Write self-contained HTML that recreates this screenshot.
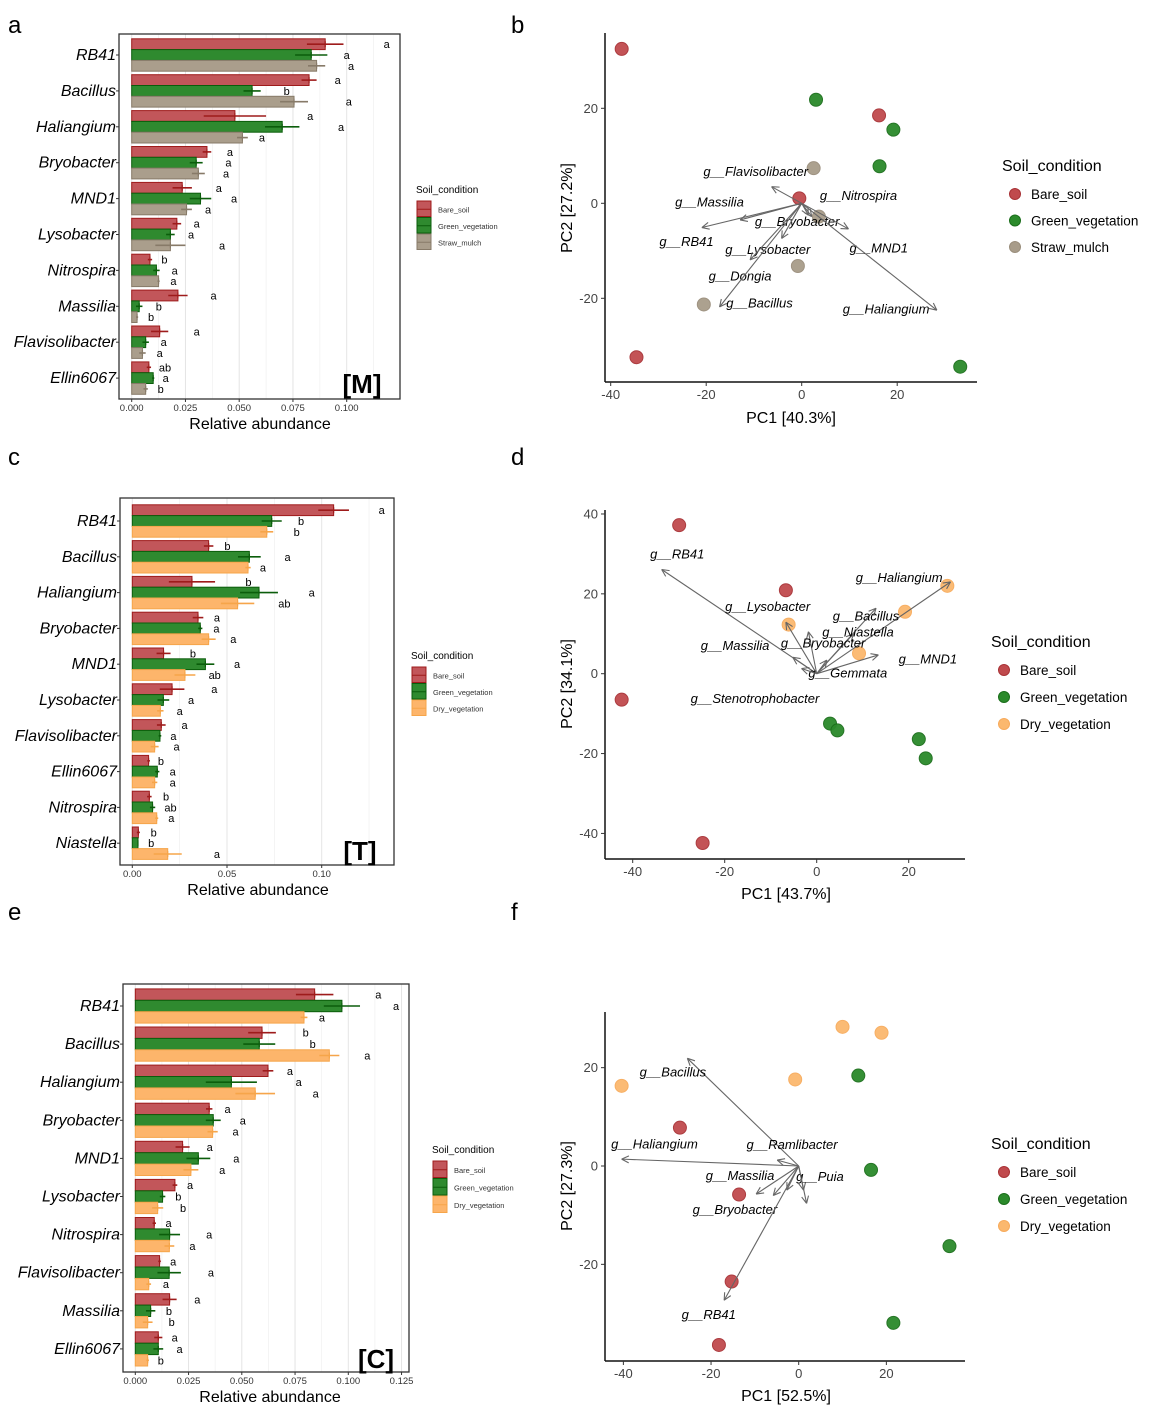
<!DOCTYPE html>
<html><head><meta charset="utf-8"><style>
body{margin:0;background:#fff}
svg{display:block;font-family:"Liberation Sans",sans-serif}
</style></head><body>
<svg id="fig" width="1169" height="1412" viewBox="0 0 1169 1412" xmlns="http://www.w3.org/2000/svg">
<g id="static">
<text x="8" y="33" font-size="24">a</text>
<text x="511" y="33" font-size="24">b</text>
<text x="8" y="465" font-size="24">c</text>
<text x="511" y="465" font-size="24">d</text>
<text x="8" y="920" font-size="24">e</text>
<text x="511" y="920" font-size="24">f</text>
</g>
</svg>
<script>
// ===== Panel a data (Mulch) =====
const catsA=["RB41","Bacillus","Haliangium","Bryobacter","MND1","Lysobacter","Nitrospira","Massilia","Flavisolibacter","Ellin6067"];
const bareA=[0.090,0.0825,0.048,0.035,0.0235,0.021,0.0085,0.0215,0.013,0.008];
const bareUpA=[0.0985,0.086,0.0625,0.037,0.028,0.023,0.0095,0.026,0.017,0.009];
const greenA=[0.0835,0.056,0.070,0.030,0.032,0.018,0.0115,0.0035,0.0065,0.010];
const greenUpA=[0.091,0.060,0.078,0.033,0.037,0.020,0.013,0.005,0.008,0.0105];
const thirdA=[0.086,0.0755,0.0515,0.031,0.0255,0.018,0.0125,0.0025,0.005,0.0065];
const thirdUpA=[0.090,0.082,0.054,0.034,0.028,0.025,0.013,0.003,0.0065,0.0075];
const lettersA=[["a","a","a"],["a","b","a"],["a","a","a"],["a","a","a"],["a","a","a"],["a","a","a"],["b","a","a"],["a","b","b"],["a","a","a"],["ab","a","b"]];
const letterXA=[[0.1186,0.100,0.102],[0.0958,0.0721,0.101],[0.083,0.0974,0.0606],[0.0457,0.045,0.0439],[0.0405,0.0476,0.0355],[0.0302,0.0276,0.042],[0.0152,0.020,0.0194],[0.0381,0.0126,0.009],[0.0302,0.0149,0.013],[0.0155,0.0158,0.0135]];
const ticksA=[0,0.025,0.05,0.075,0.1];
const tickLabA=["0.000","0.025","0.050","0.075","0.100"];

// ===== Panel c data (T) =====
const catsC=["RB41","Bacillus","Haliangium","Bryobacter","MND1","Lysobacter","Flavisolibacter","Ellin6067","Nitrospira","Niastella"];
const bareC=[0.1063,0.0403,0.0315,0.0347,0.0165,0.021,0.0153,0.0086,0.009,0.0032];
const bareUpC=[0.1144,0.0428,0.0437,0.0375,0.0202,0.0275,0.0176,0.0093,0.0102,0.004];
const greenC=[0.0736,0.0618,0.0669,0.0359,0.0386,0.0164,0.0146,0.0132,0.0107,0.003];
const greenUpC=[0.0789,0.0678,0.0769,0.037,0.0433,0.0195,0.0153,0.0143,0.0121,0.0032];
const thirdC=[0.071,0.0611,0.0556,0.0403,0.0278,0.0148,0.0118,0.0118,0.0129,0.0187];
const thirdUpC=[0.0744,0.0625,0.0644,0.044,0.0333,0.0165,0.0139,0.0132,0.0137,0.0261];
const lettersC=[["a","b","b"],["b","a","a"],["b","a","ab"],["a","a","a"],["b","a","ab"],["a","a","a"],["a","a","a"],["b","a","a"],["b","ab","a"],["b","b","a"]];
const letterXC=[[0.1317,0.0891,0.0868],[0.0502,0.082,0.069],[0.0613,0.0947,0.0803],[0.0447,0.0444,0.0533],[0.032,0.0553,0.0435],[0.0433,0.031,0.025],[0.0276,0.0217,0.0234],[0.0151,0.0213,0.0213],[0.0178,0.0202,0.0206],[0.0113,0.010,0.0447]];
const ticksC=[0,0.05,0.1];
const tickLabC=["0.00","0.05","0.10"];

// ===== Panel e data (C) =====
const catsE=["RB41","Bacillus","Haliangium","Bryobacter","MND1","Lysobacter","Nitrospira","Flavisolibacter","Massilia","Ellin6067"];
const bareE=[0.0842,0.0595,0.0623,0.0347,0.0222,0.0186,0.0089,0.0114,0.0161,0.0108];
const bareUpE=[0.093,0.066,0.0648,0.0362,0.0255,0.0197,0.0097,0.012,0.0194,0.0127];
const greenE=[0.097,0.0582,0.0451,0.0366,0.0296,0.0128,0.0161,0.0159,0.0072,0.0108];
const greenUpE=[0.1055,0.0657,0.0571,0.0401,0.0352,0.0141,0.021,0.0214,0.0094,0.0131];
const thirdE=[0.0792,0.0911,0.0563,0.0363,0.0261,0.0105,0.016,0.0063,0.0058,0.0058];
const thirdUpE=[0.0808,0.0958,0.0656,0.0387,0.0296,0.0131,0.0183,0.0074,0.0081,0.0064];
const lettersE=[["a","a","a"],["b","b","a"],["a","a","a"],["a","a","a"],["a","a","a"],["a","b","b"],["a","a","a"],["a","a","a"],["a","b","b"],["a","a","b"]];
const letterXE=[[0.1141,0.1224,0.0876],[0.080,0.0833,0.1089],[0.0726,0.0767,0.0847],[0.0433,0.0505,0.0471],[0.0349,0.0474,0.0408],[0.0257,0.0202,0.0224],[0.0156,0.0347,0.0268],[0.0178,0.0355,0.0144],[0.0291,0.0158,0.0171],[0.0185,0.0208,0.012]];
const ticksE=[0,0.025,0.05,0.075,0.1,0.125];
const tickLabE=["0.000","0.025","0.050","0.075","0.100","0.125"];

// ===== PCA b =====
const bPtsX=[-37.7,16.2,-0.5,-34.6, 3,19.2,16.3,33.2, 2.5,3.6,-0.8,-20.5];
const bPtsY=[32.5,18.5,1.05,-32.4, 21.8,15.5,7.8,-34.4, 7.4,-2.8,-13.2,-21.3];
const bPtsG=[0,0,0,0,1,1,1,1,2,2,2,2];
const bArrName=["Flavisolibacter","Massilia","RB41","Bryobacter","Nitrospira","MND1","Lysobacter","Dongia","Bacillus","Haliangium"];
const bArrX=[-6.3,-12.9,-20.9,2.1,1.4,9.8,-4.2,-10.8,-17.2,28.3];
const bArrY=[3.5,-3.5,-5.1,-2.8,-2.5,-5.4,-7.4,-11.9,-21.8,-22.5];
const bLabX=[-20.6,-26.5,-29.8,-9.8,3.8,10,-16,-19.5,-15.8,8.6];
const bLabY=[5.75,-0.7,-9,-4.8,0.7,-10.4,-10.7,-16.3,-21.9,-23.2];

// ===== PCA d =====
const dPtsX=[-29.9,-6.7,-42.4,-24.8, 2.9,4.5,22.2,23.7, -6.1,9.2,19.2,28.4];
const dPtsY=[37.2,20.9,-6.5,-42.4, -12.5,-14.2,-16.4,-21.2, 12.3,5.1,15.5,22];
const dPtsG=[0,0,0,0,1,1,1,1,2,2,2,2];
const dArrName=["RB41","Haliangium","Lysobacter","Bacillus","Niastella","Massilia","Bryobacter","MND1","Gemmata","Stenotrophobacter"];
const dArrX=[-33.7,29.1,-6.7,12.9,8,-5.2,-1.8,13.4,2.2,-3.3];
const dArrY=[26.1,23,12.9,16.4,10,4.1,10.5,4.7,3.4,1.3];
const dLabX=[-36.2,8.5,-19.9,3.5,1.2,-25.2,-7.8,17.8,-1.8,-27.4];
const dLabY=[28.9,23,15.7,13.3,9.3,5.9,6.5,2.6,-0.9,-7.4];

// ===== PCA f =====
const fPtsX=[-27.1,-13.6,-15.3,-18.2, 13.6,16.5,34.4,21.6, -40.4,-0.8,10,18.9];
const fPtsY=[7.8,-5.8,-23.5,-36.4, 18.4,-0.8,-16.3,-31.9, 16.3,17.6,28.3,27.1];
const fPtsG=[0,0,0,0,1,1,1,1,2,2,2,2];
const fArrName=["Bacillus","Haliangium","Ramlibacter","Massilia","Puia","Bryobacter","RB41","",""];
const fArrX=[-25.4,-40.4,-4.9,-9.7,1.8,-5.8,-17,-2.7,1.1];
const fArrY=[21.9,1.4,1.2,-5.7,-7.6,-6,-27.3,-4.9,-4.9];
const fLabX=[-36.3,-42.8,-11.9,-21.2,-0.6,-24.2,-26.7,0,0];
const fLabY=[18.2,3.6,3.5,-2.8,-3.1,-9.8,-31.1,0,0];

const NS="http://www.w3.org/2000/svg";
const svg=document.getElementById("fig");
function mk(tag,attrs,parent,txt){const e=document.createElementNS(NS,tag);for(const k in attrs)e.setAttribute(k,attrs[k]);if(txt!==undefined)e.textContent=txt;(parent||svg).appendChild(e);return e;}

const FILLS=[["#c2565a","#9e1b1b"],["#2f8a2f","#0b5d0b"]];
const THIRD={straw:["#aa9e8c","#877a68"],dry:["#fdb56b","#f6a54a"]};

function barPanel(cfg,cats,vals,ups,letters,letterX,ticks,tickLab){
  const g=mk("g",{});
  
  
  const X=v=>cfg.xz+v*cfg.ppu;
  const step=(cfg.xmaxGrid)/((ticks.length-1)*2);
  for(let i=0;i<=(ticks.length-1)*2+1;i++){const gx=X(i*step*1);if(gx<cfg.x1-1)mk("line",{x1:gx,x2:gx,y1:cfg.y0,y2:cfg.y1,stroke:i%2?"#f0f0f0":"#e4e4e4","stroke-width":i%2?0.7:1},g);}
  const bh=cfg.bh;
  const fills=[FILLS[0],FILLS[1],THIRD[cfg.third]];
  cats.forEach((c,i)=>{
    const cy=cfg.cy0+i*cfg.cs;
    const t=mk("text",{x:cfg.labR,y:cy+5,"font-size":16,"font-style":"italic","text-anchor":"end"},g,c);
    
    
    mk("line",{x1:cfg.x0-3,x2:cfg.x0,y1:cy,y2:cy,stroke:"#333"},g);
    for(let s=0;s<3;s++){
      const v=vals[s][i],u=ups[s][i];
      const y=cy-1.5*bh+s*bh;
      const r=mk("rect",{x:X(0),y:y,width:Math.max(0,X(v)-X(0)),height:bh,fill:fills[s][0],stroke:fills[s][1],"stroke-width":1},g);
      
      
      const lo=v-(u-v);
      mk("line",{x1:X(lo),x2:X(u),y1:y+bh/2,y2:y+bh/2,stroke:fills[s][1],"stroke-width":1.6},g);
      mk("line",{x1:X(v),x2:X(v),y1:y+bh/2-3,y2:y+bh/2+3,stroke:fills[s][1],"stroke-width":1.2},g);
      const lt=mk("text",{x:X(letterX[i][s]),y:y+bh/2+4,"font-size":11,"text-anchor":"middle"},g,letters[i][s]);
      
      
    }
  });
  const fr=mk("rect",{x:cfg.x0,y:cfg.y0,width:cfg.x1-cfg.x0,height:cfg.y1-cfg.y0,fill:"none",stroke:"#333","stroke-width":1.3},g);
  
  
  ticks.forEach((tv,i)=>{
    mk("line",{x1:X(tv),x2:X(tv),y1:cfg.y1,y2:cfg.y1+3,stroke:"#333"},g);
    const tl=mk("text",{x:X(tv),y:cfg.y1+12,"font-size":9.5,fill:"#333","text-anchor":"middle"},g,tickLab[i]);
    
    
  });
  const at=mk("text",{x:cfg.titleX,y:cfg.y1+30,"font-size":16,"text-anchor":"middle"},g,"Relative abundance");
  
  
  const cl=mk("text",{x:cfg.tagX,y:cfg.tagY,"font-size":26,"font-weight":"bold","text-anchor":"middle"},g,cfg.tag);
  
  
  // legend
  const lg=mk("g",{},g);
  
  
  mk("text",{x:cfg.lx,y:cfg.ly,"font-size":10},lg,"Soil_condition");
  const names=["Bare_soil","Green_vegetation",cfg.third==="straw"?"Straw_mulch":"Dry_vegetation"];
  names.forEach((n,s)=>{
    const ky=cfg.ly+8+s*cfg.lstep;
    mk("rect",{x:cfg.lx+1,y:ky,width:14,height:cfg.lstep-1,fill:fills[s][0],stroke:fills[s][1]},lg);
    mk("line",{x1:cfg.lx+1,x2:cfg.lx+15,y1:ky+cfg.lstep/2,y2:ky+cfg.lstep/2,stroke:fills[s][1]},lg);
    const e=mk("text",{x:cfg.lx+22,y:ky+cfg.lstep/2+3,"font-size":7.5,fill:"#333"},lg,n);
    
    
  });
}

barPanel({name:"bar-chart-a",x0:119,x1:400,y0:34,y1:399,xz:131.7,ppu:2150,xmaxGrid:0.1,cy0:55,cs:35.9,bh:10.8,labR:116,titleX:260,tag:"[M]",tagX:362,tagY:393,third:"straw",lx:416,ly:193,lstep:16.5},
  catsA,[bareA,greenA,thirdA],[bareUpA,greenUpA,thirdUpA],lettersA,letterXA,ticksA,tickLabA);
barPanel({name:"bar-chart-c",x0:120,x1:394,y0:498,y1:865,xz:132.3,ppu:1894,xmaxGrid:0.1,cy0:521,cs:35.8,bh:10.8,labR:117,titleX:258,tag:"[T]",tagX:360,tagY:860,third:"dry",lx:411,ly:659,lstep:16.5},
  catsC,[bareC,greenC,thirdC],[bareUpC,greenUpC,thirdUpC],lettersC,letterXC,ticksC,tickLabC);
barPanel({name:"bar-chart-e",x0:123,x1:409,y0:984,y1:1372,xz:135.3,ppu:2130,xmaxGrid:0.125,cy0:1006,cs:38.1,bh:11.4,labR:120,titleX:270,tag:"[C]",tagX:376,tagY:1368,third:"dry",lx:432,ly:1153,lstep:17.5},
  catsE,[bareE,greenE,thirdE],[bareUpE,greenUpE,thirdUpE],lettersE,letterXE,ticksE,tickLabE);

const DOT=[["#c04a4d","#a83236"],["#2b8a2b","#1b6e1b"]];
function pca(cfg,px,py,pg,an,ax,ay,lx,ly,xt,yt){
  const g=mk("g",{});
  
  
  const X=v=>cfg.ox+v*cfg.sx, Y=v=>cfg.oy-v*cfg.sy;
  const third=cfg.third==="straw"?["#a89c8a","#9a8e7c"]:["#fbb86e","#f7ab5c"];
  const cols=[DOT[0],DOT[1],third];
  px.forEach((v,i)=>{
    const c=mk("circle",{cx:X(v),cy:Y(py[i]),r:6.5,fill:cols[pg[i]][0],stroke:cols[pg[i]][1],"stroke-width":1,opacity:0.95},g);
    
    
  });
  ax.forEach((v,i)=>{
    const x2=X(v),y2=Y(ay[i]),x1=X(0),y1=Y(0);
    const a=mk("line",{x1:x1,y1:y1,x2:x2,y2:y2,stroke:"#666","stroke-width":1.1},g);
    
    
    const ang=Math.atan2(y2-y1,x2-x1),L=8;
    [0.45,-0.45].forEach(d=>mk("line",{x1:x2,y1:y2,x2:x2-L*Math.cos(ang+d),y2:y2-L*Math.sin(ang+d),stroke:"#666","stroke-width":1.1},g));
    if(an[i]){
      const t=mk("text",{x:X(lx[i]),y:Y(ly[i]),"font-size":13,"font-style":"italic"},g,"g__"+an[i]);
      
      
    }
  });
  mk("line",{x1:cfg.l,x2:cfg.l,y1:cfg.t,y2:cfg.b,stroke:"#111","stroke-width":1.5},g);
  mk("line",{x1:cfg.l,x2:cfg.r,y1:cfg.b,y2:cfg.b,stroke:"#111","stroke-width":1.5},g);
  xt.forEach(v=>{
    mk("line",{x1:X(v),x2:X(v),y1:cfg.b,y2:cfg.b+4,stroke:"#333"},g);
    const t=mk("text",{x:X(v),y:cfg.b+17,"font-size":13,fill:"#444","text-anchor":"middle"},g,String(v));
    
    
  });
  yt.forEach(v=>{
    mk("line",{x1:cfg.l-4,x2:cfg.l,y1:Y(v),y2:Y(v),stroke:"#333"},g);
    const t=mk("text",{x:cfg.l-7,y:Y(v)+4.5,"font-size":13,fill:"#444","text-anchor":"end"},g,String(v));
    
    
  });
  const xtT=mk("text",{x:cfg.xtx,y:cfg.xty,"font-size":16,"text-anchor":"middle"},g,cfg.xtitle);
  
  
  const ytT=mk("text",{x:0,y:0,"font-size":16,"text-anchor":"middle",transform:`translate(572,${cfg.ytc}) rotate(-90)`},g,cfg.ytitle);
  
  
  const lg=mk("g",{},g);
  
  
  mk("text",{x:cfg.lgx,y:cfg.lgy,"font-size":16},lg,"Soil_condition");
  const names=["Bare_soil","Green_vegetation",cfg.third==="straw"?"Straw_mulch":"Dry_vegetation"];
  names.forEach((n,s)=>{
    const yy=cfg.lgy+cfg.lg1+s*cfg.lgs;
    mk("circle",{cx:cfg.lgx+13,cy:yy,r:5.5,fill:cols[s][0],stroke:cols[s][1]},lg);
    const e=mk("text",{x:cfg.lgx+29,y:yy+5,"font-size":13.5},lg,n);
    
    
  });
}
pca({name:"pca-b",ox:801.7,oy:203.3,sx:4.775,sy:4.75,l:605,r:977,t:33,b:382,third:"straw",xtitle:"PC1 [40.3%]",xtx:791,xty:423,ytitle:"PC2 [27.2%]",ytc:208,lgx:1002,lgy:171,lg1:23,lgs:26.5},
  bPtsX,bPtsY,bPtsG,bArrName,bArrX,bArrY,bLabX,bLabY,[-40,-20,0,20],[-20,0,20]);
pca({name:"pca-d",ox:816.7,oy:673.7,sx:4.6,sy:3.993,l:605,r:965,t:510,b:859,third:"dry",xtitle:"PC1 [43.7%]",xtx:786,xty:899,ytitle:"PC2 [34.1%]",ytc:684,lgx:991,lgy:647,lg1:23,lgs:27},
  dPtsX,dPtsY,dPtsG,dArrName,dArrX,dArrY,dLabX,dLabY,[-40,-20,0,20],[-40,-20,0,20,40]);
pca({name:"pca-f",ox:798.7,oy:1166,sx:4.383,sy:4.917,l:605,r:965,t:1012,b:1361,third:"dry",xtitle:"PC1 [52.5%]",xtx:786,xty:1401,ytitle:"PC2 [27.3%]",ytc:1186,lgx:991,lgy:1149,lg1:23,lgs:27},
  fPtsX,fPtsY,fPtsG,fArrName,fArrX,fArrY,fLabX,fLabY,[-40,-20,0,20],[-20,0,20]);
</script>
</body></html>
